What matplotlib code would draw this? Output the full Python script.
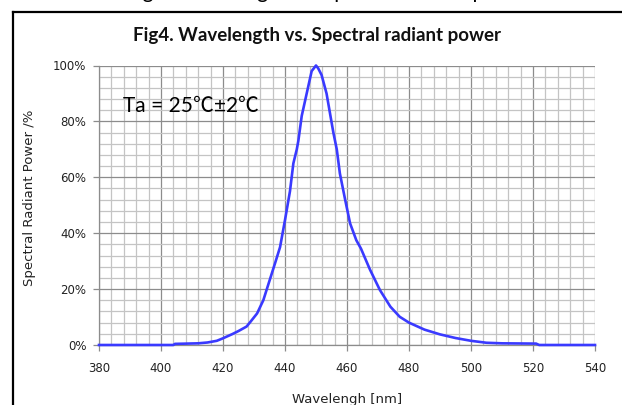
import matplotlib
matplotlib.use("Agg")
import matplotlib.pyplot as plt
from matplotlib.lines import Line2D
from matplotlib.ticker import MultipleLocator, FuncFormatter

# ---- data ----
wavelength = [380, 404, 404.5, 412, 415, 418, 420, 423, 425, 427.6, 429, 431, 433, 435,
              437, 438.4, 440, 441.6, 442.7, 443.8, 444.3, 445.4, 447, 448.6, 450,
              450.7, 451.8, 453.4, 454.5, 455.6, 456.7, 457.7, 459.4, 461, 463, 464.5,
              467.4, 470.6, 474, 477, 480, 485, 490, 495, 500, 505, 510, 521, 522, 540]
power = [0, 0, 0.4, 0.6, 0.9, 1.5, 2.4, 3.9, 5.0, 6.6, 8.5, 11.3, 16, 23,
         30, 35, 44.7, 55, 65, 70, 73, 82, 90, 98, 100,
         99, 96.6, 90, 83, 76, 70, 61.4, 52, 43.5, 37.5, 34.5,
         27, 19.7, 13.7, 10.1, 8.0, 5.5, 3.8, 2.5, 1.5, 0.8, 0.6, 0.5, 0, 0]

x_ticks = [380, 400, 420, 440, 460, 480, 500, 520, 540]
y_ticks = [0, 20, 40, 60, 80, 100]

title = "Fig4. Wavelength vs. Spectral radiant power"
x_label = "Wavelengh [nm]"
y_label = "Spectral Radiant Power /%"
note_parts = ["Ta = 25", "\u2103", "\u00b12", "\u2103"]

W, H = 622, 405
fig = plt.figure(figsize=(W / 100, H / 100), dpi=100)
fig.patch.set_facecolor("white")

left, right = 99 / W, 595 / W
bottom, top = 1 - 345 / H, 1 - 65.5 / H
ax = fig.add_axes([left, bottom, right - left, top - bottom])

ax.set_xlim(380, 540)
ax.set_ylim(0, 100)
ax.xaxis.set_minor_locator(MultipleLocator(4))
ax.yaxis.set_minor_locator(MultipleLocator(4))
ax.set_xticks(x_ticks)
ax.set_yticks(y_ticks)
ax.yaxis.set_major_formatter(FuncFormatter(lambda v, p: f"{int(v)}%"))

ax.grid(which="minor", color="#c4c4c4", linewidth=0.9, zorder=0)
ax.grid(which="major", color="#8c8c8c", linewidth=0.9, zorder=0)
ax.set_axisbelow(True)

for s in ["top", "right"]:
    ax.spines[s].set_visible(False)
for s in ["left", "bottom"]:
    ax.spines[s].set_color("#8c8c8c")
    ax.spines[s].set_linewidth(0.9)

ax.tick_params(which="major", direction="out", length=4, width=0.9, color="#8c8c8c",
               labelsize=8.5, labelcolor="#222222", pad=5)
ax.tick_params(which="minor", length=0)
ax.tick_params(axis="x", pad=8)

ax.plot(wavelength, power, color="#3a3aff", linewidth=1.9, zorder=3, clip_on=False)

# annotation: Latin text in Lato, the degree-Celsius signs from a CJK font
renderer = fig.canvas.get_renderer()
x_px = 123.0
base_y = 1 - 112 / H
for part in note_parts:
    fam = ["Noto Sans CJK SC", "DejaVu Sans"] if part == "\u2103" else ["Lato", "DejaVu Sans"]
    t = fig.text(x_px / W, base_y, part, fontsize=15, ha="left", va="baseline",
                 family=fam, color="black", zorder=4)
    bb = t.get_window_extent(renderer=renderer)
    x_px = bb.x1

fig.text(317.5 / W, 1 - 35 / H, title, fontsize=13.5, fontweight="bold", ha="center",
         va="center", family=["Lato", "DejaVu Sans"], color="#111111")

# caption of the page, clipped at the very top as in the reference
fig.text(328 / W, 1 + 2 / H, title, fontsize=15, ha="center", va="baseline",
         family=["Lato", "DejaVu Sans"], color="black")

fig.text(30 / W, 1 - 198 / H, y_label, fontsize=9.5, rotation=90, ha="center",
         va="center", color="#222222")
fig.text(347 / W, 1 - 399 / H, x_label, fontsize=9.5, ha="center", va="center",
         color="#222222")

# outer frame (left and top edges)
fig.add_artist(Line2D([13 / W, 13 / W], [0, 1 - 12 / H], transform=fig.transFigure,
                      color="black", linewidth=1.6))
fig.add_artist(Line2D([13 / W, 1.0], [1 - 12 / H, 1 - 12 / H], transform=fig.transFigure,
                      color="black", linewidth=1.6))

fig.savefig("out.png", dpi=100)
